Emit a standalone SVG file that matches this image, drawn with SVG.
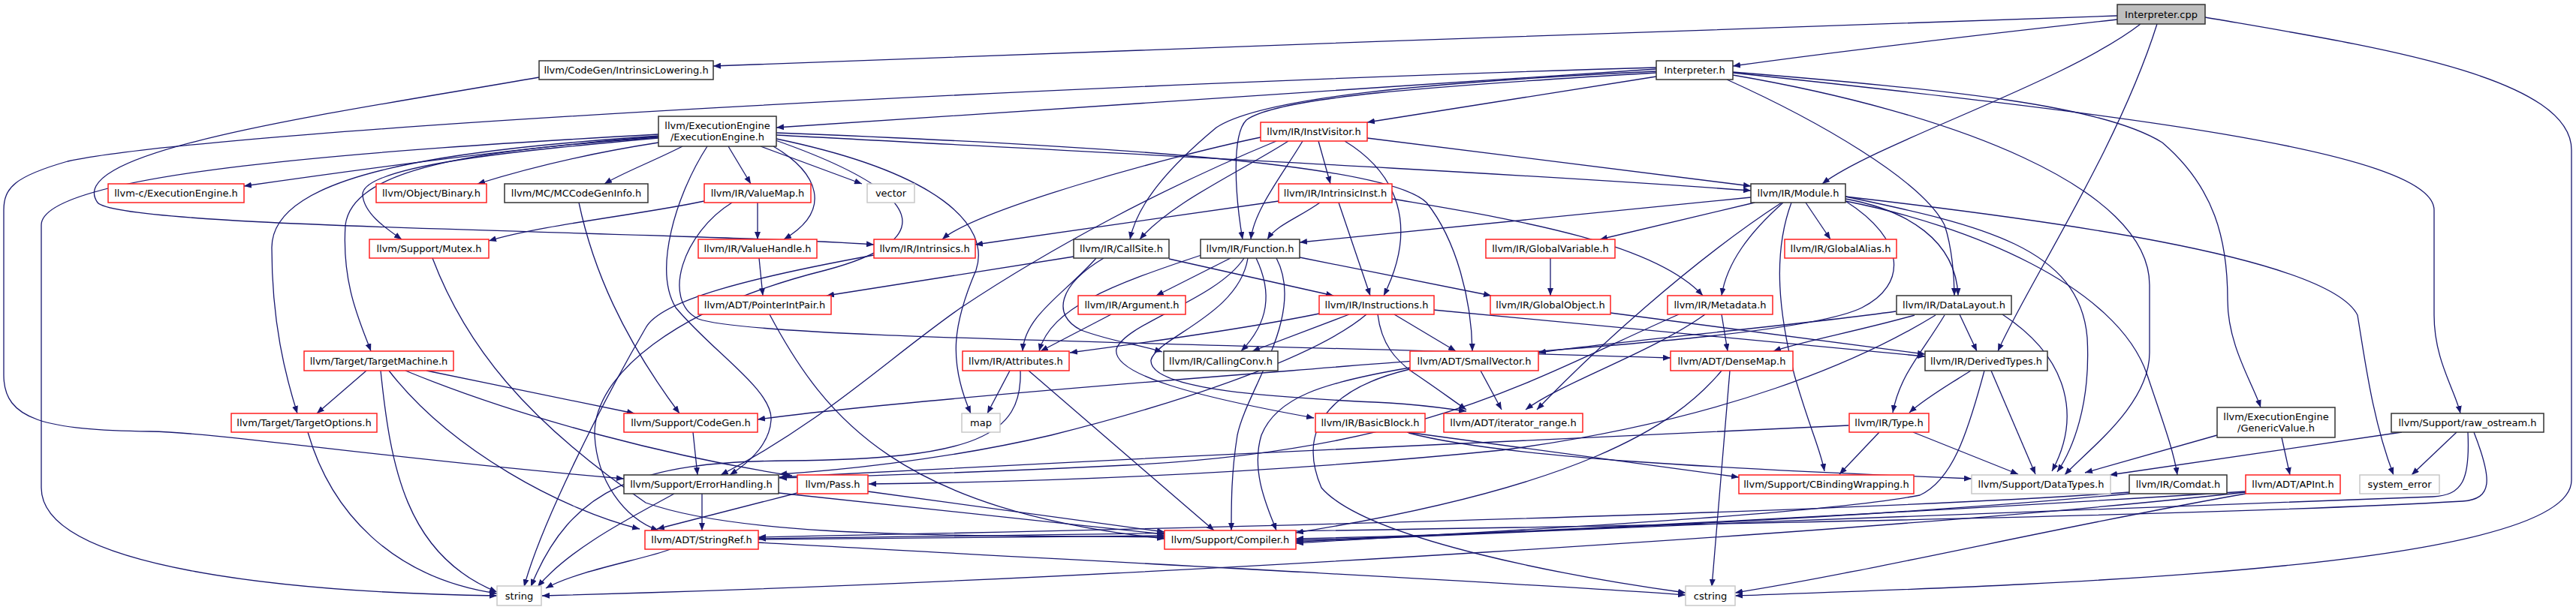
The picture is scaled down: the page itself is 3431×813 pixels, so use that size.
<svg xmlns="http://www.w3.org/2000/svg" width="3431" height="813" viewBox="0 0 3431 813">
<style>
.n rect{fill:#fff;stroke-width:1.5}
.r rect{stroke:#ff2020}
.b rect{stroke:#333}
.g rect{stroke:#c8c8c8}
text{font-family:"DejaVu Sans","Liberation Sans",Arial,sans-serif;font-size:13px;fill:#000;text-anchor:middle}
#edges path{fill:none;stroke:#191970;stroke-width:1.3;marker-end:url(#ah)}
</style>
<defs>
<marker id="ah" markerWidth="10" markerHeight="8" refX="10" refY="4" orient="auto" markerUnits="userSpaceOnUse"><path d="M0,0 L10,4 L0,8 z" fill="#191970"/></marker>
</defs>
<rect width="3431" height="813" fill="#fff"/>
<g id="edges">
<path d="M2820,21 C2300,35 1500,70 950,88"/>
<path d="M2820,26 C2650,45 2450,68 2308,88"/>
<path d="M2851,32 C2750,110 2500,190 2427,245"/>
<path d="M2873,32 C2820,200 2700,380 2661,468"/>
<path d="M2937,23 C3150,60 3425,100 3425,200 L3425,640 C3425,760 2700,780 2311,794"/>
<path d="M718,103 C450,150 80,200 130,270 C160,305 900,308 1164,326"/>
<path d="M2206,92 C1800,120 1300,150 1034,170"/>
<path d="M2206,90 C1500,110 300,170 90,215 C20,235 5,250 5,280 L5,500 C5,560 60,573 200,575 C300,577 500,610 831,638"/>
<path d="M2206,95 C1900,110 1680,130 1620,170 C1560,220 1515,270 1505,319"/>
<path d="M2206,97 C1900,115 1700,130 1660,160 C1640,180 1645,260 1655,319"/>
<path d="M2206,102 L1821,163"/>
<path d="M2300,106 C2420,160 2560,240 2590,300 C2600,330 2603,370 2603,394"/>
<path d="M2308,96 C2600,120 2800,140 2880,190 C2950,250 2967,320 2967,400 C2967,460 3000,510 3011,543"/>
<path d="M2308,97 C2800,150 3242,200 3242,280 L3242,420 C3242,480 3270,520 3277,551"/>
<path d="M2308,100 C2600,150 2863,250 2863,380 L2863,470 C2863,540 2780,600 2750,633"/>
<path d="M877,182 C700,195 450,230 325,248"/>
<path d="M877,190 C780,205 700,225 636,245"/>
<path d="M909,195 C870,215 830,230 805,245"/>
<path d="M970,195 L1000,245"/>
<path d="M1013,195 L1148,245"/>
<path d="M1030,195 C1090,230 1110,280 1044,319"/>
<path d="M877,184 C700,200 480,220 483,260 C485,285 515,305 535,319"/>
<path d="M877,183 C650,200 470,220 460,300 C455,380 480,430 494,468"/>
<path d="M877,181 C600,200 362,230 362,330 C362,430 380,500 396,551"/>
<path d="M877,179 C500,200 55,230 55,300 L55,650 C55,760 400,790 662,794"/>
<path d="M1034,180 C1500,205 2000,230 2332,254"/>
<path d="M1034,177 C1500,195 1850,220 1900,270 C1940,320 1960,400 1961,468"/>
<path d="M942,195 C900,260 870,360 900,410 C950,470 1030,520 1027,560 C1025,590 1000,615 972,633"/>
<path d="M1033,187 C1240,260 1250,320 1100,360 C900,410 790,500 792,580 C795,640 830,690 877,707"/>
<path d="M1034,185 C1250,230 1320,300 1300,360 C1270,430 1262,480 1293,551"/>
<path d="M1009,270 L1009,319"/>
<path d="M938,268 C860,285 720,300 651,321"/>
<path d="M975,270 C910,310 880,400 930,425 C1000,450 1500,455 2225,477"/>
<path d="M1011,344 L1016,394"/>
<path d="M1703,268 L1299,326"/>
<path d="M1679,183 C1550,210 1300,280 1255,319"/>
<path d="M1716,188 C1650,230 1560,270 1518,319"/>
<path d="M1735,188 C1710,230 1670,280 1666,319"/>
<path d="M1756,188 L1772,245"/>
<path d="M1791,188 C1860,230 1890,300 1843,394"/>
<path d="M1821,184 L2332,248"/>
<path d="M1700,188 C1550,250 1400,330 1280,410 C1180,480 1100,560 960,633"/>
<path d="M1758,270 C1730,290 1700,300 1688,319"/>
<path d="M1783,270 L1825,394"/>
<path d="M1854,265 C2000,290 2200,320 2268,394"/>
<path d="M2332,263 C2100,285 1900,305 1731,323"/>
<path d="M2337,270 L2131,319"/>
<path d="M2405,270 L2438,319"/>
<path d="M2375,270 C2330,310 2300,350 2293,394"/>
<path d="M2373,270 C2250,350 2120,470 2047,546"/>
<path d="M2386,270 C2360,340 2370,420 2390,500 C2410,570 2425,600 2430,628"/>
<path d="M2458,262 C2640,300 2770,330 2780,450 C2785,540 2760,600 2740,629"/>
<path d="M2458,268 C2620,300 2820,380 2860,500 C2880,560 2895,600 2900,633"/>
<path d="M2458,265 C2540,280 2605,320 2608,394"/>
<path d="M2458,262 C2700,290 3100,340 3140,420 C3150,480 3160,560 3188,633"/>
<path d="M2458,268 C2540,320 2540,380 2480,410 C2400,450 2000,470 1720,494 C1450,515 1150,540 1009,559"/>
<path d="M1430,342 L1101,394"/>
<path d="M1557,345 L1776,394"/>
<path d="M1460,344 C1420,390 1365,420 1362,468"/>
<path d="M1470,344 C1410,380 1400,420 1440,440 C1480,455 1520,460 1548,469"/>
<path d="M1639,344 L1540,394"/>
<path d="M1600,340 C1480,380 1400,410 1384,468"/>
<path d="M1657,344 C1620,400 1500,430 1487,465 C1480,500 1600,530 1750,557"/>
<path d="M1673,344 C1695,390 1690,430 1653,468"/>
<path d="M1731,343 L1986,394"/>
<path d="M1662,344 C1650,420 1540,450 1533,480 C1530,520 1700,530 1850,537 C1900,540 1930,545 1953,548"/>
<path d="M1700,344 C1740,420 1660,520 1648,580 C1640,630 1640,670 1640,707"/>
<path d="M1480,419 L1386,468"/>
<path d="M1857,419 L1939,468"/>
<path d="M1835,419 C1840,460 1860,480 1880,495 C1910,515 1930,530 1953,546"/>
<path d="M1909,413 L2564,475"/>
<path d="M1757,418 C1650,440 1500,460 1425,470"/>
<path d="M1797,419 L1668,468"/>
<path d="M1820,419 C1760,470 1600,530 1400,580 C1250,615 1100,628 1038,632"/>
<path d="M2065,344 L2065,394"/>
<path d="M2145,417 L2564,472"/>
<path d="M2293,419 L2301,468"/>
<path d="M2271,419 C2200,470 2080,510 2032,546"/>
<path d="M2236,419 C2050,500 1900,600 1500,620 C1300,630 1100,636 1038,637"/>
<path d="M2525,415 C2400,433 2150,455 2049,470"/>
<path d="M2550,420 C2480,440 2400,455 2362,468"/>
<path d="M2578,420 C2480,480 2300,560 2000,600 C1700,630 1400,642 1157,645"/>
<path d="M2590,420 C2560,470 2530,500 2521,550"/>
<path d="M2610,419 L2633,468"/>
<path d="M2667,419 C2760,480 2770,560 2733,628"/>
<path d="M488,494 L422,551"/>
<path d="M507,494 C520,620 540,740 662,789"/>
<path d="M518,494 C600,600 750,680 852,705"/>
<path d="M540,494 C700,560 900,610 1055,634"/>
<path d="M568,494 L845,551"/>
<path d="M410,576 C440,680 520,770 662,791"/>
<path d="M771,270 C790,360 830,450 905,551"/>
<path d="M576,344 C620,460 700,560 860,670 C1000,720 1300,712 1551,716"/>
<path d="M923,576 L929,633"/>
<path d="M935,658 L935,707"/>
<path d="M898,658 C840,690 760,730 716,782"/>
<path d="M1037,657 L1551,712"/>
<path d="M1062,657 L875,705"/>
<path d="M1156,655 L1551,709"/>
<path d="M893,732 C860,745 770,760 727,784"/>
<path d="M1009,723 C1400,745 2000,775 2245,793"/>
<path d="M1009,719 L1551,714"/>
<path d="M1025,419 C1100,560 1200,680 1551,718"/>
<path d="M1345,494 L1315,551"/>
<path d="M1370,494 L1617,707"/>
<path d="M1359,494 C1362,580 1300,612 1050,614 C850,615 760,650 707,782"/>
<path d="M1164,340 C1000,370 880,400 860,437 C800,540 720,700 698,782"/>
<path d="M2991,656 C2500,710 1500,770 860,790 C800,792 760,793 722,794"/>
<path d="M2991,658 C2750,700 2500,760 2311,790"/>
<path d="M2991,655 C2600,680 2000,712 1726,720"/>
<path d="M3039,583 L3050,633"/>
<path d="M2953,580 L2777,630"/>
<path d="M3272,576 L3212,633"/>
<path d="M3199,576 L2810,633"/>
<path d="M3287,576 C3290,640 3280,660 3240,662 C3000,670 2200,700 1726,722"/>
<path d="M3295,576 C3320,640 3320,665 3280,668 C2900,690 2000,705 1010,718"/>
<path d="M2836,656 C2500,680 1800,700 1010,716"/>
<path d="M2836,658 C2500,690 2000,712 1726,718"/>
<path d="M2625,494 C2600,510 2565,530 2543,550"/>
<path d="M2643,494 C2620,580 2600,640 2557,660 C2400,690 1900,712 1726,724"/>
<path d="M2652,494 L2711,632"/>
<path d="M2503,576 L2450,632"/>
<path d="M2548,576 L2688,632"/>
<path d="M2462,567 C2100,585 1500,610 1038,636"/>
<path d="M1874,576 L2316,636"/>
<path d="M1876,577 C2000,610 2300,625 2626,638"/>
<path d="M1972,494 L2000,546"/>
<path d="M1878,490 C1760,510 1700,530 1680,580 C1665,630 1690,680 1700,707"/>
<path d="M1878,492 C1760,520 1730,580 1760,650 C1820,720 2100,770 2245,790"/>
<path d="M2304,494 L2280,782"/>
<path d="M2293,494 C2230,570 2100,650 1726,710"/>
</g>
<g id="n_cpp" class="n b"><rect x="2820" y="6" width="117" height="26" style="fill:#bfbfbf"/><text x="2878.5" y="23.5">Interpreter.cpp</text></g>
<g id="n_ilow" class="n b"><rect x="718" y="81" width="232" height="25"/><text x="834" y="98">llvm/CodeGen/IntrinsicLowering.h</text></g>
<g id="n_interp" class="n b"><rect x="2206" y="81" width="102" height="25"/><text x="2257" y="98">Interpreter.h</text></g>
<g id="n_ee" class="n b"><rect x="877" y="155" width="157" height="40"/><text x="955.5" y="171.5">llvm/ExecutionEngine</text><text x="955.5" y="186.5">/ExecutionEngine.h</text></g>
<g id="n_instvis" class="n r"><rect x="1679" y="163" width="142" height="25"/><text x="1750" y="180">llvm/IR/InstVisitor.h</text></g>
<g id="n_ceee" class="n r"><rect x="144" y="245" width="181" height="25"/><text x="234.5" y="262">llvm-c/ExecutionEngine.h</text></g>
<g id="n_binary" class="n r"><rect x="501" y="245" width="147" height="25"/><text x="574.5" y="262">llvm/Object/Binary.h</text></g>
<g id="n_mccg" class="n b"><rect x="672" y="245" width="191" height="25"/><text x="767.5" y="262">llvm/MC/MCCodeGenInfo.h</text></g>
<g id="n_valuemap" class="n r"><rect x="938" y="245" width="142" height="25"/><text x="1009" y="262">llvm/IR/ValueMap.h</text></g>
<g id="n_vector" class="n g"><rect x="1155" y="245" width="63" height="25"/><text x="1186.5" y="262">vector</text></g>
<g id="n_intrinst" class="n r"><rect x="1703" y="245" width="151" height="25"/><text x="1778.5" y="262">llvm/IR/IntrinsicInst.h</text></g>
<g id="n_module" class="n b"><rect x="2332" y="245" width="126" height="25"/><text x="2395" y="262">llvm/IR/Module.h</text></g>
<g id="n_mutex" class="n r"><rect x="492" y="319" width="159" height="25"/><text x="571.5" y="336">llvm/Support/Mutex.h</text></g>
<g id="n_valuehandle" class="n r"><rect x="930" y="319" width="158" height="25"/><text x="1009" y="336">llvm/IR/ValueHandle.h</text></g>
<g id="n_intrinsics" class="n r"><rect x="1164" y="319" width="135" height="25"/><text x="1231.5" y="336">llvm/IR/Intrinsics.h</text></g>
<g id="n_callsite" class="n b"><rect x="1430" y="319" width="127" height="25"/><text x="1493.5" y="336">llvm/IR/CallSite.h</text></g>
<g id="n_function" class="n b"><rect x="1599" y="319" width="132" height="25"/><text x="1665" y="336">llvm/IR/Function.h</text></g>
<g id="n_globalvar" class="n r"><rect x="1979" y="319" width="172" height="25"/><text x="2065" y="336">llvm/IR/GlobalVariable.h</text></g>
<g id="n_globalalias" class="n r"><rect x="2377" y="319" width="149" height="25"/><text x="2451.5" y="336">llvm/IR/GlobalAlias.h</text></g>
<g id="n_pip" class="n r"><rect x="930" y="394" width="177" height="25"/><text x="1018.5" y="411">llvm/ADT/PointerIntPair.h</text></g>
<g id="n_argument" class="n r"><rect x="1436" y="394" width="143" height="25"/><text x="1507.5" y="411">llvm/IR/Argument.h</text></g>
<g id="n_instructions" class="n r"><rect x="1757" y="394" width="153" height="25"/><text x="1833.5" y="411">llvm/IR/Instructions.h</text></g>
<g id="n_globalobj" class="n r"><rect x="1985" y="394" width="160" height="25"/><text x="2065" y="411">llvm/IR/GlobalObject.h</text></g>
<g id="n_metadata" class="n r"><rect x="2221" y="394" width="140" height="25"/><text x="2291" y="411">llvm/IR/Metadata.h</text></g>
<g id="n_datalayout" class="n b"><rect x="2526" y="394" width="153" height="25"/><text x="2602.5" y="411">llvm/IR/DataLayout.h</text></g>
<g id="n_tm" class="n r"><rect x="405" y="468" width="199" height="26"/><text x="504.5" y="485.5">llvm/Target/TargetMachine.h</text></g>
<g id="n_attributes" class="n r"><rect x="1282" y="468" width="142" height="26"/><text x="1353" y="485.5">llvm/IR/Attributes.h</text></g>
<g id="n_callingconv" class="n b"><rect x="1550" y="468" width="152" height="26"/><text x="1626" y="485.5">llvm/IR/CallingConv.h</text></g>
<g id="n_smallvector" class="n r"><rect x="1878" y="468" width="171" height="26"/><text x="1963.5" y="485.5">llvm/ADT/SmallVector.h</text></g>
<g id="n_densemap" class="n r"><rect x="2225" y="468" width="163" height="26"/><text x="2306.5" y="485.5">llvm/ADT/DenseMap.h</text></g>
<g id="n_derivedtypes" class="n b"><rect x="2564" y="468" width="163" height="26"/><text x="2645.5" y="485.5">llvm/IR/DerivedTypes.h</text></g>
<g id="n_to" class="n r"><rect x="308" y="551" width="194" height="25"/><text x="405" y="568">llvm/Target/TargetOptions.h</text></g>
<g id="n_codegen" class="n r"><rect x="831" y="551" width="178" height="25"/><text x="920" y="568">llvm/Support/CodeGen.h</text></g>
<g id="n_map" class="n g"><rect x="1281" y="551" width="51" height="25"/><text x="1306.5" y="568">map</text></g>
<g id="n_basicblock" class="n r"><rect x="1752" y="551" width="146" height="25"/><text x="1825" y="568">llvm/IR/BasicBlock.h</text></g>
<g id="n_iterrange" class="n r"><rect x="1923" y="551" width="185" height="25"/><text x="2015.5" y="568">llvm/ADT/iterator_range.h</text></g>
<g id="n_type" class="n r"><rect x="2463" y="551" width="106" height="25"/><text x="2516" y="568">llvm/IR/Type.h</text></g>
<g id="n_genericvalue" class="n b"><rect x="2953" y="543" width="157" height="40"/><text x="3031.5" y="559.5">llvm/ExecutionEngine</text><text x="3031.5" y="574.5">/GenericValue.h</text></g>
<g id="n_rawostream" class="n b"><rect x="3185" y="551" width="203" height="25"/><text x="3286.5" y="568">llvm/Support/raw_ostream.h</text></g>
<g id="n_errorhandling" class="n b"><rect x="831" y="633" width="206" height="25"/><text x="934" y="650">llvm/Support/ErrorHandling.h</text></g>
<g id="n_pass" class="n r"><rect x="1062" y="633" width="94" height="25"/><text x="1109" y="650">llvm/Pass.h</text></g>
<g id="n_cbinding" class="n r"><rect x="2316" y="633" width="233" height="25"/><text x="2432.5" y="650">llvm/Support/CBindingWrapping.h</text></g>
<g id="n_datatypes" class="n g"><rect x="2626" y="633" width="185" height="25"/><text x="2718.5" y="650">llvm/Support/DataTypes.h</text></g>
<g id="n_comdat" class="n b"><rect x="2836" y="633" width="130" height="25"/><text x="2901" y="650">llvm/IR/Comdat.h</text></g>
<g id="n_apint" class="n r"><rect x="2991" y="633" width="126" height="25"/><text x="3054" y="650">llvm/ADT/APInt.h</text></g>
<g id="n_syserr" class="n g"><rect x="3143" y="633" width="106" height="25"/><text x="3196" y="650">system_error</text></g>
<g id="n_stringref" class="n r"><rect x="859" y="707" width="151" height="25"/><text x="934.5" y="724">llvm/ADT/StringRef.h</text></g>
<g id="n_compiler" class="n r"><rect x="1551" y="707" width="175" height="25"/><text x="1638.5" y="724">llvm/Support/Compiler.h</text></g>
<g id="n_string" class="n g"><rect x="662" y="781" width="59" height="26"/><text x="691.5" y="798.5">string</text></g>
<g id="n_cstring" class="n g"><rect x="2245" y="781" width="66" height="26"/><text x="2278" y="798.5">cstring</text></g>
</svg>
